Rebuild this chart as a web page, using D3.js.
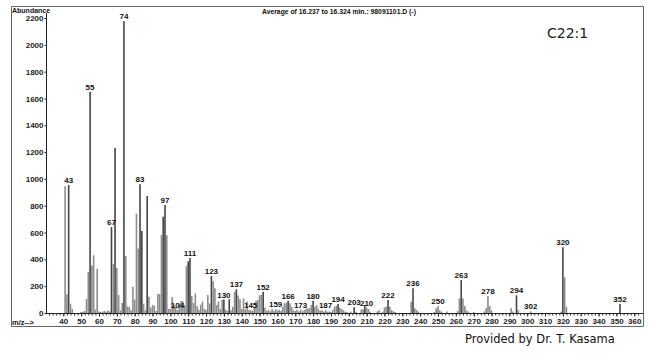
<!DOCTYPE html>
<html><head><meta charset="utf-8">
<script src="https://cdn.jsdelivr.net/npm/d3@7"></script>
<style>
html,body{margin:0;padding:0;background:#fff;}
svg{display:block;}
</style>
</head><body>
<svg id="chart" width="650" height="357"></svg>
<script>
// ---- data ----
const mzValues = [41,42,43,44,45,50,51,52,53,54,55,56,57,58,59,60,61,62,63,64,65,66,67,68,69,70,71,72,73,74,75,76,77,78,79,80,81,82,83,84,85,86,87,88,89,90,91,92,93,94,95,96,97,98,99,100,101,102,103,104,105,106,107,108,109,110,111,112,113,114,115,116,117,118,119,120,121,122,123,124,125,126,127,128,129,130,131,132,133,134,135,136,137,138,139,140,141,142,143,144,145,146,147,148,149,150,151,152,153,154,155,156,157,158,159,160,161,162,163,164,165,166,167,168,169,170,171,172,173,174,175,176,177,178,179,180,181,182,183,184,185,186,187,188,189,190,191,192,193,194,195,196,197,198,199,201,203,204,207,208,209,210,211,212,216,217,219,220,221,222,223,224,225,226,235,236,237,238,239,248,249,250,251,252,255,261,262,263,264,265,266,267,270,276,277,278,279,280,291,292,294,295,302,319,320,321,322,352];
const abundance = [945,140,955,70,30,8,10,15,105,305,1650,355,430,25,330,12,8,10,15,10,18,12,640,365,1230,335,135,20,75,2175,425,50,45,20,196,100,740,480,960,612,70,20,873,122,40,60,55,15,142,142,582,718,806,580,30,30,118,60,45,22,70,90,87,60,350,385,410,128,75,145,50,25,62,85,30,25,134,72,276,239,184,60,85,30,97,100,25,15,102,20,45,159,177,130,102,30,109,25,85,20,22,15,45,92,97,134,135,158,40,15,25,12,30,15,28,20,25,15,47,72,77,92,72,47,20,15,25,12,25,12,20,30,35,35,60,92,47,60,30,15,20,10,20,10,12,8,22,47,52,67,40,30,20,10,8,10,42,10,25,30,60,40,30,10,12,20,10,42,47,97,47,22,12,8,85,184,35,22,10,8,35,52,20,10,12,15,109,246,109,52,20,10,8,12,35,127,52,20,35,12,132,22,12,10,490,266,47,67];
const labelledPeaks = [43,55,67,74,83,97,104,111,123,130,137,145,152,159,166,173,180,187,194,203,210,222,236,250,263,278,294,302,320,352];
const darkPeaks = [43,55,67,69,74,83,84,87,96,97,110,111,123,130,133,137,152,166,180,194,203,209,222,236,263,294,320,352];
const xTickValues = [40,50,60,70,80,90,100,110,120,130,140,150,160,170,180,190,200,210,220,230,240,250,260,270,280,290,300,310,320,330,340,350,360];
const yTickValues = [0,200,400,600,800,1000,1200,1400,1600,1800,2000,2200];
const titleText = "Average of 16.237 to 16.324 min.: 98091101.D (-)";
const compoundText = "C22:1";
const creditText = "Provided by Dr. T. Kasama";

const spectrum = mzValues.map((m,i)=>({mz:m, ab:abundance[i]}));
const abByMz = new Map(spectrum.map(d=>[d.mz,d.ab]));

// ---- layout ----
const svg = d3.select("#chart");
const x = d3.scaleLinear().domain([30.3, 364.9]).range([46, 643]);
const y = d3.scaleLinear().domain([0, 2200]).range([313, 18]);
const font = "'Liberation Sans', Arial, sans-serif";

// frame
svg.append("path")
  .attr("d", "M11.5,326.5 L11.5,6.5 L643.5,6.5 L643.5,326.5 Z")
  .attr("fill","none").attr("stroke","#666").attr("stroke-width",1);

// bars
svg.append("g").selectAll("line").data(spectrum).join("line")
  .attr("x1", d=>x(d.mz)).attr("x2", d=>x(d.mz))
  .attr("y1", y(0)).attr("y2", d=>y(d.ab))
  .attr("stroke", d=>darkPeaks.includes(d.mz) ? "#444" : "#8c8c8c")
  .attr("stroke-width", 1.6);

// y axis
const yAxis = d3.axisLeft(y).tickValues(yTickValues).tickSize(2).tickPadding(1).tickFormat(d3.format("d"));
const gy = svg.append("g").attr("transform","translate(46.5,0)").call(yAxis);
gy.select(".domain").attr("d","M0,13V313").attr("stroke","#222");
gy.selectAll("text").attr("font-family",font).attr("font-size",8).attr("font-weight","bold").attr("fill","#222");
gy.selectAll(".tick line").attr("stroke","#222");

// x axis (minor ticks every 2)
const minorVals = d3.range(32, 364, 2);
svg.append("g").attr("transform","translate(0,313.5)")
  .call(d3.axisBottom(x).tickValues(minorVals).tickSize(2).tickFormat(""))
  .call(g=>g.select(".domain").remove())
  .selectAll("line").attr("stroke","#333");
const gx = svg.append("g").attr("transform","translate(0,313.5)")
  .call(d3.axisBottom(x).tickValues(xTickValues).tickSize(3).tickPadding(2).tickFormat(d3.format("d")));
gx.select(".domain").attr("d","M46,0H643").attr("stroke","#222");
gx.selectAll("text").attr("font-family",font).attr("font-size",8).attr("font-weight","bold").attr("fill","#222");
gx.selectAll(".tick line").attr("stroke","#222");

// peak labels
svg.append("g").selectAll("text").data(labelledPeaks).join("text")
  .attr("x", d=>x(d)).attr("y", d=>y(abByMz.get(d)||0)-2)
  .attr("text-anchor","middle")
  .attr("font-family",font).attr("font-size",8).attr("font-weight","bold").attr("fill","#111")
  .text(d=>d);

// texts
svg.append("text").attr("x",12).attr("y",12.5).attr("font-family",font).attr("font-size",7)
  .attr("font-weight","bold").attr("fill","#111").text("Abundance");
svg.append("text").attr("x",12).attr("y",325).attr("font-family",font).attr("font-size",7.5)
  .attr("font-weight","bold").attr("fill","#111").text("m/z-->");
svg.append("text").attr("x",262).attr("y",14).attr("font-family",font).attr("font-size",6.8)
  .attr("font-weight","bold").attr("fill","#111").text(titleText);
svg.append("text").attr("x",547).attr("y",38).attr("font-family","'DejaVu Sans', sans-serif").attr("font-size",14)
  .attr("fill","#222").text(compoundText);
svg.append("text").attr("x",465).attr("y",343).attr("font-family","'DejaVu Sans', sans-serif").attr("font-size",11.5)
  .attr("fill","#111").text(creditText);
</script>
</body></html>
